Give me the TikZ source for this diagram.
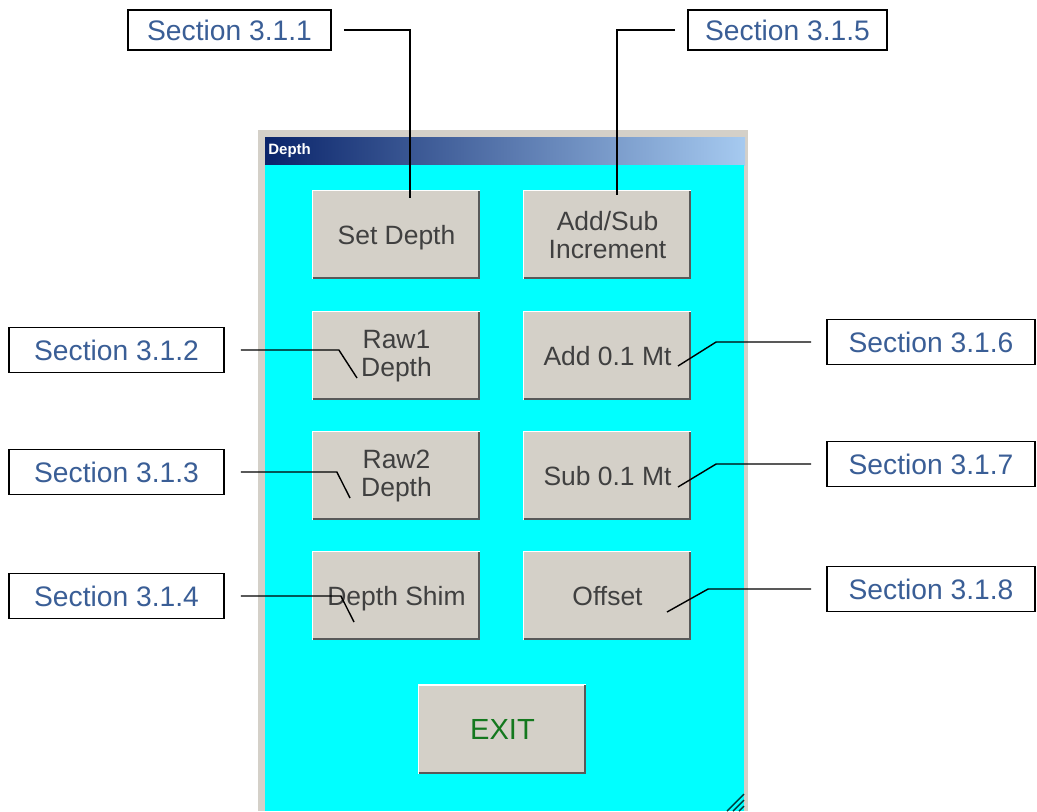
\documentclass[tikz,border=0pt]{standalone}
\usepackage{fontspec}
\setmainfont{Liberation Sans}
\usepackage{tikz}
\usetikzlibrary{arrows}
\usepackage{color}

\definecolor{secblue}{RGB}{58,94,150}
\definecolor{winface}{RGB}{212,208,200}
\definecolor{panelcyan}{RGB}{0,255,255}
\definecolor{titledark}{RGB}{10,36,106}
\definecolor{titlelight}{RGB}{166,202,240}
\definecolor{btnface}{RGB}{212,208,200}
\definecolor{exitgreen}{RGB}{20,120,30}
\newcommand\px{0.567pt}

\begin{document}
\begin{tikzpicture}[x=\px,y=-\px]
\tikzset{secbox/.style={draw,line width=1pt,fill=white,text=secblue,font=\fontsize{16}{18}\selectfont,minimum width=205*\px,minimum height=45*\px,inner sep=0pt},
  button/.style={fill=btnface,text=black!75,font=\fontsize{15}{15.5}\selectfont,align=center,minimum width=167*\px,minimum height=88*\px,inner sep=0pt},
  oneline/.style={text depth=0pt},
  leader/.style={line width=0.8pt}}
\useasboundingbox (0,0) rectangle (1037,811);

% window
\fill[winface] (258,130) rectangle (748,811);
\shade[left color=titledark,right color=titlelight] (265,137) rectangle (745,165);
\fill[panelcyan] (265,165) rectangle (744,811);
\node[anchor=west,text=white,font=\bfseries\fontsize{8.5}{10}\selectfont,inner sep=0pt] (title) at (268,151) {Depth};
\foreach \d in {0,6,12} \draw[black!55!teal,line width=0.8pt] (727+\d,811) -- (744,794+\d);

% buttons
\node[button,oneline] (bset) at (396.5,235) {Set Depth};
\node[button] (baddsub) at (607.5,235) {Add/Sub\\Increment};
\node[button] (braw1) at (396.5,356) {Raw1\\Depth};
\node[button,oneline] (badd) at (607.5,356) {Add 0.1 Mt};
\node[button] (braw2) at (396.5,476) {Raw2\\Depth};
\node[button,oneline] (bsub) at (607.5,476) {Sub 0.1 Mt};
\node[button,oneline] (bshim) at (396.5,596) {Depth Shim};
\node[button,oneline] (boff) at (607.5,596) {Offset};
\node[button,oneline,text=exitgreen,font=\fontsize{16.5}{18}\selectfont] (bexit) at (502.5,729.5) {EXIT};
\foreach \b in {bset,baddsub,braw1,badd,braw2,bsub,bshim,boff,bexit} {
  \draw[white,line width=0.8pt] (\b.south west) |- (\b.north east);
  \draw[black!65,line width=1.3pt] ([yshift=0.6pt]\b.south west) -| ([xshift=-0.6pt]\b.north east);
}

% section labels
\node[secbox,minimum width=203*\px,minimum height=40*\px] (s311) at (229.5,30) {Section 3.1.1};
\node[secbox,minimum width=199*\px,minimum height=40*\px] (s315) at (787.5,30) {Section 3.1.5};
\node[secbox,minimum width=215*\px] (s312) at (116.5,350) {Section 3.1.2};
\node[secbox,minimum width=215*\px] (s313) at (116.5,472) {Section 3.1.3};
\node[secbox,minimum width=215*\px] (s314) at (116.5,596) {Section 3.1.4};
\node[secbox,minimum width=208*\px] (s316) at (931,342) {Section 3.1.6};
\node[secbox,minimum width=208*\px] (s317) at (931,464) {Section 3.1.7};
\node[secbox,minimum width=208*\px] (s318) at (931,589) {Section 3.1.8};

% leader ends
\coordinate (c311) at (410,198);
\coordinate (c315) at (617,195);
\coordinate (c312) at (357,378);
\coordinate (c313) at (350,498);
\coordinate (c314) at (354,622);
\coordinate (c316) at (678,366);
\coordinate (c317) at (678,487);
\coordinate (c318) at (667,612);

\draw[leader] ([xshift=12*\px]s311.east) -| (c311);
\draw[leader] ([xshift=-12*\px]s315.west) -| (c315);
\draw[leader] ([xshift=16*\px]s312.east) -- ++(98,0) -- (c312);
\draw[leader] ([xshift=16*\px]s313.east) -- ++(96,0) -- (c313);
\draw[leader] ([xshift=16*\px]s314.east) -- ++(100,0) -- (c314);
\draw[leader] ([xshift=-15*\px]s316.west) -- ++(-95,0) -- (c316);
\draw[leader] ([xshift=-15*\px]s317.west) -- ++(-95,0) -- (c317);
\draw[leader] ([xshift=-15*\px]s318.west) -- ++(-103,0) -- (c318);

\end{tikzpicture}
\end{document}
